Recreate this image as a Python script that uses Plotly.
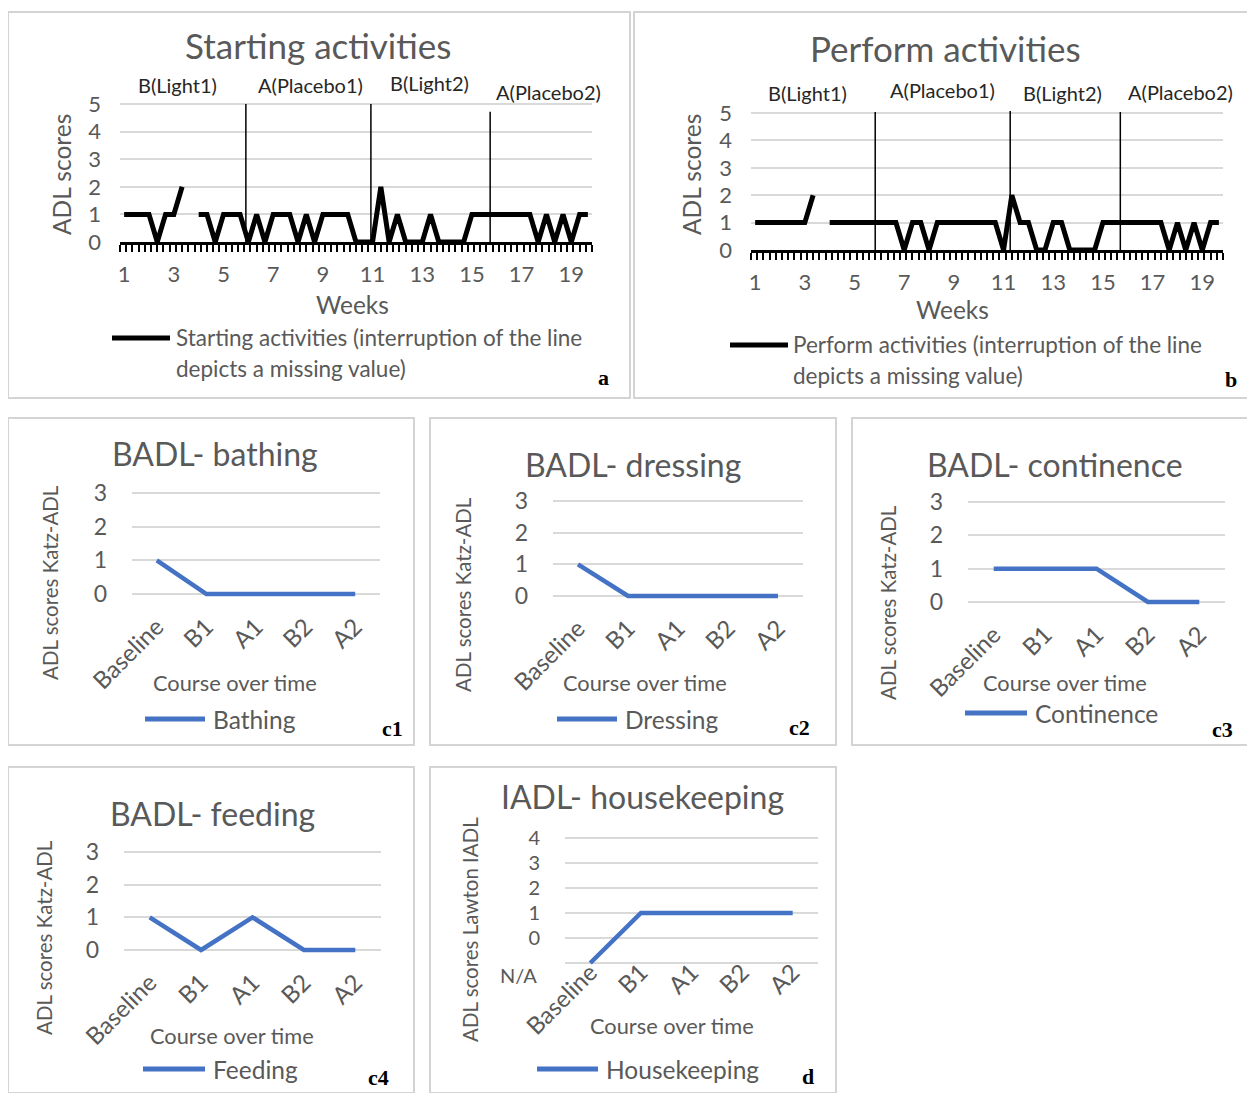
import plotly.graph_objects as go

W, H = 1255, 1093
OFF = 8  # page body margin in the browser
FONT = "Lato, 'Open Sans', sans-serif"
SERIF = "'Liberation Serif', 'DejaVu Serif', serif"
GREY = "#595959"
GRID = "#d9d9d9"
BLUE = "#4472C4"

# ------------------------------------------------------------------ data
# panels a / b : three measurements per week, weeks 1..19 (None = missing value)
week_labels = ["1", "3", "5", "7", "9", "11", "13", "15", "17", "19"]
per_week = 3
starting = [1, 1, 1, 1, 0, 1, 1, 2, None, 1, 1, 0, 1, 1, 1, 0, 1, 0, 1, 1,
            1, 0, 1, 0, 1, 1, 1, 1, 0, 0, 0, 2, 0, 1, 0, 0, 0, 1, 0, 0,
            0, 0, 1, 1, 1, 1, 1, 1, 1, 1, 0, 1, 0, 1, 0, 1, 1]
perform = [1, 1, 1, 1, 1, 1, 1, 2, None, 1, 1, 1, 1, 1, 1, 1, 1, 1, 0, 1,
           1, 0, 1, 1, 1, 1, 1, 1, 1, 1, 0, 2, 1, 1, 0, 0, 1, 1, 0, 0,
           0, 0, 1, 1, 1, 1, 1, 1, 1, 1, 0, 1, 0, 1, 0, 1, 1]
phase_names = ["B(Light1)", "A(Placebo1)", "B(Light2)", "A(Placebo2)"]
phase_bounds_a = [14.7, 29.8, 44.2]   # measurement index of phase change
phase_bounds_b = [14.5, 30.8, 44.1]

# panels c / d
stages = ["Baseline", "B1", "A1", "B2", "A2"]
bathing = [1, 0, 0, 0, 0]
dressing = [1, 0, 0, 0, 0]
continence = [1, 1, 1, 0, 0]
feeding = [1, 0, 1, 0, 0]
housekeeping = [-1, 1, 1, 1, 1]   # -1 encodes "N/A"

# ------------------------------------------------------------------ helpers
def PX(x):
    return (x - OFF) / W


def PY(y):
    return 1 - (y - OFF) / H


def ydom(v0, p0, v1, p1, lo, hi):
    s = (p0 - p1) / (v1 - v0)
    plo = p0 + (v0 - lo) * s
    phi = p0 - (hi - v0) * s
    return [PY(plo), PY(phi)]


annotations = []
shapes = []


def ann(text, x, y, size, color=GREY, xanchor="center", yanchor="middle",
        angle=0, family=FONT):
    annotations.append(dict(text=text, x=PX(x), y=PY(y), xref="paper", yref="paper",
                            showarrow=False, xanchor=xanchor, yanchor=yanchor,
                            textangle=angle, font=dict(family=family, size=size, color=color)))


def hline(x0, x1, y, color, width):
    shapes.append(dict(type="line", xref="paper", yref="paper", x0=PX(x0), x1=PX(x1),
                       y0=PY(y), y1=PY(y), line=dict(color=color, width=width)))


def box(x0, y0, x1, y1):
    shapes.append(dict(type="rect", xref="paper", yref="paper", x0=PX(x0), x1=PX(x1),
                       y0=PY(y0), y1=PY(y1), line=dict(color="#d4d4d4", width=2),
                       fillcolor="rgba(0,0,0,0)", layer="below"))


fig = go.Figure()
layout = dict(width=W, height=H, margin=dict(l=0, r=0, t=0, b=0, pad=0), autosize=False,
              paper_bgcolor="white", plot_bgcolor="white", showlegend=False,
              template="none")

# ------------------------------------------------------------------ panels a, b
n = len(starting)
idx = list(range(n))
label_pos = [(int(w) - 1) * per_week for w in week_labels]
# small tick marks every quarter week along the time axis
quarter = per_week / 4
n_marks = int(round(n / quarter)) + 1
mark_vals = [-0.5 + j * quarter for j in range(n_marks)]

week_panels = [
    dict(k=1, data=starting, bounds=phase_bounds_a, x0=120, x1=592, p0=242, p5=104,
         top=5.05, tops=[5.0, 5.0, 4.72]),
    dict(k=2, data=perform, bounds=phase_bounds_b, x0=751, x1=1223, p0=250, p5=113,
         top=5.1, tops=[5.04, 5.07, 5.04]),
]
for p in week_panels:
    k = p["k"]
    xa = "x" if k == 1 else f"x{k}"
    ya = "y" if k == 1 else f"y{k}"
    fig.add_trace(go.Scatter(x=idx, y=p["data"], mode="lines", xaxis=xa, yaxis=ya,
                             connectgaps=False, hoverinfo="skip",
                             line=dict(color="black", width=5)))
    layout["xaxis" if k == 1 else f"xaxis{k}"] = dict(
        domain=[PX(p["x0"]), PX(p["x1"])], anchor=ya, range=[-0.5, n - 0.5],
        tickmode="array", tickvals=label_pos, ticktext=week_labels, automargin=False,
        ticks="", showline=True, linecolor="black", linewidth=3, showgrid=False,
        zeroline=False, tickfont=dict(family=FONT, size=22, color=GREY),
        ticklabelstandoff=11,
        minor=dict(tickmode="array", tickvals=mark_vals, ticks="outside", ticklen=7,
                   tickwidth=1.5, tickcolor="black", showgrid=False))
    layout["yaxis" if k == 1 else f"yaxis{k}"] = dict(
        domain=ydom(0, p["p0"], 5, p["p5"], 0, p["top"]), anchor=xa, automargin=False,
        range=[0, p["top"]], tickvals=[0, 1, 2, 3, 4, 5],
        showgrid=True, gridcolor=GRID, gridwidth=1.5, zeroline=False, showline=False,
        ticks="", tickfont=dict(family=FONT, size=22, color=GREY), ticklabelstandoff=18)
    for b, t in zip(p["bounds"], p["tops"]):
        shapes.append(dict(type="line", xref=xa, yref=ya, x0=b, x1=b, y0=0, y1=t,
                           line=dict(color="black", width=1.5)))

# panel a texts
box(8, 12, 630, 398)
ann("Starting activities", 318, 45, 35)
for name, (x, y) in zip(phase_names, [(177, 85), (310, 85), (429, 83), (548, 92)]):
    ann(name, x, y, 20, color="#262626")
ann("ADL scores", 62, 175, 24.5, angle=-90)
ann("Weeks", 352, 305, 24.5)
hline(112, 170, 338, "black", 5)
ann("Starting activities (interruption of the line", 174, 338, 22.5, xanchor="left")
ann("depicts a missing value)", 174, 368, 22.5, xanchor="left")
ann("<b>a</b>", 603, 377, 22, color="black", family=SERIF)

# panel b texts
box(634, 12, 1253, 398)
ann("Perform activities", 945, 48, 35)
for name, (x, y) in zip(phase_names, [(807, 93), (942, 90), (1062, 93), (1180, 92)]):
    ann(name, x, y, 20, color="#262626")
ann("ADL scores", 692, 175, 24.5, angle=-90)
ann("Weeks", 952, 309, 24.5)
hline(730, 788, 345, "black", 5)
ann("Perform activities (interruption of the line", 791, 345, 22.5, xanchor="left")
ann("depicts a missing value)", 791, 375, 22.5, xanchor="left")
ann("<b>b</b>", 1231, 380, 22, color="black", family=SERIF)

# ------------------------------------------------------------------ panels c1-c4, d
small = [
    dict(k=3, data=bathing, name="Bathing", title="BADL- bathing", gx=(132, 380),
         yv=(0, 594, 3, 493), rng=(-0.15, 3.1), ticks=[0, 1, 2, 3], yfs=23, xso=8,
         border=(8, 418, 414, 745), tpos=(215, 453), ytit=("ADL scores Katz-ADL", 50, 583),
         xtit=(235, 682), leg=(145, 205, 719), letter=("c1", 392, 728)),
    dict(k=4, data=dressing, name="Dressing", title="BADL- dressing", gx=(553, 803),
         yv=(0, 596, 3, 501), rng=(-0.15, 3.1), ticks=[0, 1, 2, 3], yfs=23, xso=8,
         border=(430, 418, 836, 745), tpos=(633, 465), ytit=("ADL scores Katz-ADL", 463, 595),
         xtit=(645, 682), leg=(557, 617, 719), letter=("c2", 799, 727)),
    dict(k=5, data=continence, name="Continence", title="BADL- continence", gx=(968, 1225),
         yv=(0, 602, 3, 502), rng=(-0.15, 3.1), ticks=[0, 1, 2, 3], yfs=23, xso=8,
         border=(852, 418, 1253, 745), tpos=(1055, 465), ytit=("ADL scores Katz-ADL", 888, 603),
         xtit=(1065, 682), leg=(965, 1027, 713), letter=("c3", 1222, 729)),
    dict(k=6, data=feeding, name="Feeding", title="BADL- feeding", gx=(124, 381),
         yv=(0, 950, 3, 852), rng=(-0.15, 3.1), ticks=[0, 1, 2, 3], yfs=23, xso=8,
         border=(8, 767, 414, 1093), tpos=(212, 813), ytit=("ADL scores Katz-ADL", 44, 938),
         xtit=(232, 1035), leg=(143, 205, 1069), letter=("c4", 378, 1077)),
    dict(k=7, data=housekeeping, name="Housekeeping", title="IADL- housekeeping", gx=(565, 818),
         yv=(0, 938, 4, 838), rng=(-1.15, 4.1), ticks=[-1, 0, 1, 2, 3, 4], yfs=20, xso=-14,
         border=(430, 767, 836, 1093), tpos=(642, 796), ytit=("ADL scores Lawton IADL", 470, 930),
         xtit=(672, 1025), leg=(537, 598, 1069), letter=("d", 808, 1076)),
]
for p in small:
    k = p["k"]
    xa, ya = f"x{k}", f"y{k}"
    fig.add_trace(go.Scatter(x=stages, y=p["data"], mode="lines", xaxis=xa, yaxis=ya,
                             hoverinfo="skip", line=dict(color=BLUE, width=4.5)))
    layout[f"xaxis{k}"] = dict(
        domain=[PX(p["gx"][0]), PX(p["gx"][1])], anchor=ya, type="category",
        categoryorder="array", categoryarray=stages, range=[-0.5, len(stages) - 0.5],
        showgrid=False, showline=False, zeroline=False, ticks="", tickangle=-45,
        automargin=False,
        tickfont=dict(family=FONT, size=24, color=GREY), ticklabelstandoff=p["xso"])
    ytext = [("" if v < 0 else str(v)) for v in p["ticks"]]
    layout[f"yaxis{k}"] = dict(
        domain=ydom(*p["yv"], *p["rng"]), anchor=xa, range=list(p["rng"]),
        tickmode="array", tickvals=p["ticks"], ticktext=ytext, automargin=False,
        showgrid=True, gridcolor=GRID, gridwidth=1.5, zeroline=False, showline=False,
        ticks="", tickfont=dict(family=FONT, size=p["yfs"], color=GREY), ticklabelstandoff=24)
    box(*p["border"])
    ann(p["title"], *p["tpos"], 32)
    ann(p["ytit"][0], p["ytit"][1], p["ytit"][2], 20.5, angle=-90)
    ann("Course over time", *p["xtit"], 21.8)
    hline(p["leg"][0], p["leg"][1], p["leg"][2], BLUE, 5)
    ann(p["name"], p["leg"][1] + 6, p["leg"][2], 24.5, xanchor="left")
    ann("<b>" + p["letter"][0] + "</b>", p["letter"][1], p["letter"][2], 22,
        color="black", family=SERIF)

ann("N/A", 518, 975, 20)

layout["annotations"] = annotations
layout["shapes"] = shapes
fig.update_layout(**layout)
fig.write_html("out.html")
